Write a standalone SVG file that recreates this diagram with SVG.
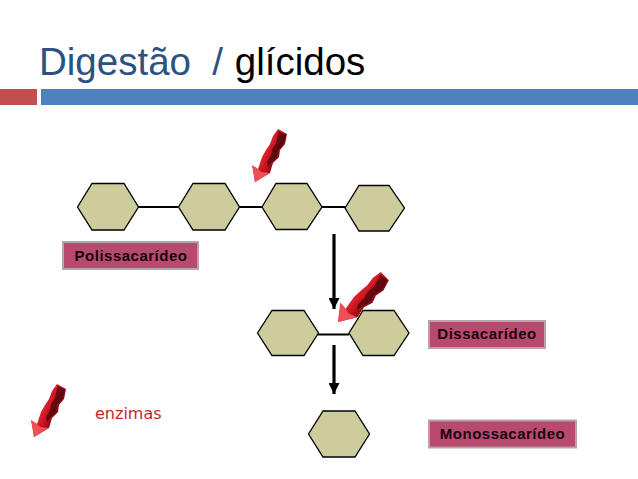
<svg xmlns="http://www.w3.org/2000/svg" xmlns:xlink="http://www.w3.org/1999/xlink" width="638" height="479" viewBox="0 0 638 479">
<style>
.hex{fill:#cccc9c;stroke:#000;stroke-width:1.3}
.bond{stroke:#000;stroke-width:2;fill:none}
.flow{stroke:#000;stroke-width:3.2;fill:none;marker-end:url(#ah)}
.box{fill:#b8496f;stroke:#b9a2ac;stroke-width:2}
.lbl{font-family:"Liberation Sans",Arial,sans-serif;font-weight:700;font-size:15px;fill:#1a0410;text-anchor:middle;letter-spacing:.5px}
</style>
<defs>
<marker id="ah" markerUnits="userSpaceOnUse" markerWidth="12" markerHeight="11" refX="11" refY="5.500" orient="auto"><path d="M0 0L11 5.500L0 11z" fill="#000"/></marker>
<linearGradient id="g" gradientUnits="userSpaceOnUse" x1="260" y1="150" x2="282" y2="160">
<stop offset="0" stop-color="#f0303a"/><stop offset=".5" stop-color="#c4121e"/><stop offset="1" stop-color="#5a070c"/>
</linearGradient>
<g id="enz">
<path d="M278 129L287 134L285 144L280 150L279 157L273 163L270 173L255 182L252 165L258 169L262 157L266 150L270 144L273 136z" fill="url(#g)"/>
<path d="M252.500 166L258 169L261 172L270 173L255 182z" fill="#ef5058"/>
<path d="M278.500 131L286 135L283 144L278 150L277 157L272 162L268 167L267 162L271 155L272 149L276 143z" fill="#2f0407" opacity=".6"/>
</g>
</defs>
<rect width="638" height="479" fill="#fff"/>
<text x="39" y="75" font-family="'Liberation Sans',Arial,sans-serif" font-size="38.500" fill="#2a5283" xml:space="preserve">Digestão  / <tspan fill="#000" dx="1">glícidos</tspan></text>
<rect x="0" y="89" width="37" height="16" fill="#c0504d"/>
<rect x="41" y="89" width="597" height="16" fill="#4f81bd"/>
<g id="connectors">
<path class="bond" d="M138 207H178M239 207H262M322 207H345M318 334.500H349"/>
<path class="flow" d="M334 234V309"/>
<path class="flow" d="M334 345V394"/>
</g>
<g id="hex1"><path class="hex" d="M77.500 207L92 183.500H124L138.500 207L124 230H92z"/></g>
<g id="hex2"><path class="hex" d="M178.500 207L193 183.500H225L239.500 207L225 230H193z"/></g>
<g id="hex3"><path class="hex" d="M262 207L276 183.500H307L322 207L307 229.500H276z"/></g>
<g id="hex4"><path class="hex" d="M345 208L359 185.500H389L404.500 208L389 231H359z"/></g>
<g id="hex5"><path class="hex" d="M257.500 333L272 310.500H304L318.500 333L304 355.500H272z"/></g>
<g id="hex6"><path class="hex" d="M349 333L363 310.500H394L409 333L394 355.500H363z"/></g>
<g id="hex7"><path class="hex" d="M308.500 434L323 411H355L369.500 434L355 457H323z"/></g>
<g id="poli"><rect class="box" x="63" y="242" width="135" height="27"/><text class="lbl" x="131" y="261">Polissacarídeo</text></g>
<g id="dissa"><rect class="box" x="429" y="321" width="116" height="27"/><text class="lbl" x="487" y="339">Dissacarídeo</text></g>
<g id="mono"><rect class="box" x="429" y="420.500" width="147" height="27"/><text class="lbl" x="502.500" y="439">Monossacarídeo</text></g>
<g id="enzyme1"><use xlink:href="#enz" href="#enz"/></g>
<g id="enzyme2"><use xlink:href="#enz" href="#enz" transform="translate(338 322) rotate(17) scale(1.14) translate(-255 -182)"/></g>
<g id="enzyme3"><use xlink:href="#enz" href="#enz" transform="translate(-221 255)"/></g>
<g id="legend"><text x="95" y="419" font-family="'DejaVu Sans',Verdana,sans-serif" font-size="16" fill="#c0282c">enzimas</text></g>
</svg>
